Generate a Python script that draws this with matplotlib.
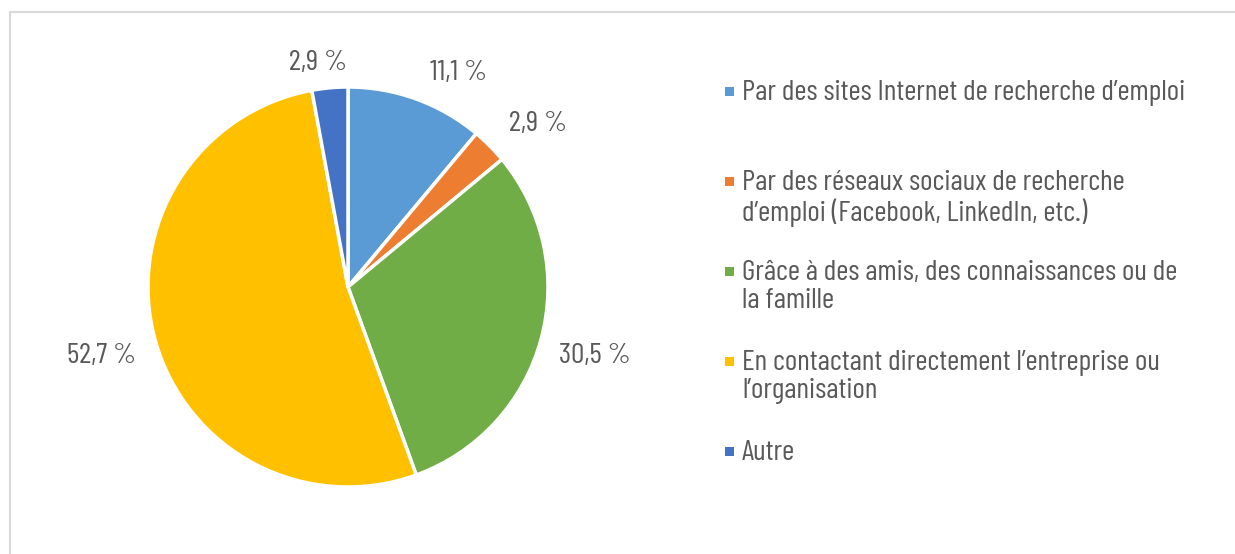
import numpy as np
import matplotlib
matplotlib.use("Agg")
import matplotlib.pyplot as plt
from matplotlib.patches import Rectangle
from matplotlib.lines import Line2D

categories = [
    "Par des sites Internet de recherche d\u2019emploi",
    "Par des réseaux sociaux de recherche\nd\u2019emploi (Facebook, LinkedIn, etc.)",
    "Grâce à des amis, des connaissances ou de\nla famille",
    "En contactant directement l\u2019entreprise ou\nl\u2019organisation",
    "Autre",
]
values = [11.1, 2.9, 30.5, 52.7, 2.9]
value_labels = ["11,1 %", "2,9 %", "30,5 %", "52,7 %", "2,9 %"]
colors = ["#5B9BD5", "#ED7D31", "#70AD47", "#FFC000", "#4472C4"]

TEXT = "#595959"
FONT = ["Barlow Condensed", "Roboto Condensed", "Liberation Sans", "DejaVu Sans"]
FS = 21.3

W, H = 1235, 554
fig = plt.figure(figsize=(W / 100, H / 100), dpi=100)

# frame (top and left visible)
fig.add_artist(Line2D([9.5 / W, 1234 / W], [1 - 11.5 / H, 1 - 11.5 / H], color="#D9D9D9", lw=1.5))
fig.add_artist(Line2D([9.5 / W, 9.5 / W], [0, 1 - 11.5 / H], color="#D9D9D9", lw=1.5))

# pie axes: 400x400 px centred on (348, 287)
cx, cy, R = 348, 287, 200
ax = fig.add_axes([(cx - R) / W, (H - cy - R) / H, 2 * R / W, 2 * R / H])
wedges, _ = ax.pie(values, colors=colors, startangle=90, counterclock=False,
                   radius=1.0, wedgeprops=dict(edgecolor="white", linewidth=2.5))
ax.set_xlim(-1, 1)
ax.set_ylim(-1, 1)
ax.set_aspect("equal")
ax.axis("off")

total = sum(values)
cum = 0
for v, lab in zip(values, value_labels):
    mid = 90 - (cum + v / 2) / total * 360
    cum += v
    a = np.deg2rad(mid)
    c, s = np.cos(a), np.sin(a)
    d = 1.08
    x, y = d * c, d * s
    ha = "left" if c > 0.3 else ("right" if c < -0.3 else "center")
    va = "bottom" if s > 0.3 else ("top" if s < -0.3 else "center")
    if ha == "center":
        x -= 0.05
        y -= 0.02
    elif va == "center":
        x += 0.015 * np.sign(c)
        y -= 0.06
    else:
        x += 0.04 * np.sign(c)
        y -= 0.01
    ax.text(x, y, lab, ha=ha, va=va, fontsize=FS, color=TEXT, family=FONT,
            clip_on=False)

# legend
lx_marker, lx_text = 724.5, 742
top0, step = 91, 90
for i, (cat, col) in enumerate(zip(categories, colors)):
    yc = top0 + step * i
    fig.add_artist(Rectangle((lx_marker / W, 1 - (yc + 4.5) / H), 9 / W, 9 / H,
                             facecolor=col, edgecolor="none"))
    fig.text(lx_text / W, 1 - (yc - 11) / H, cat, ha="left", va="top",
             fontsize=FS, color=TEXT, family=FONT, linespacing=1.12)

fig.savefig("out.png", dpi=100)
